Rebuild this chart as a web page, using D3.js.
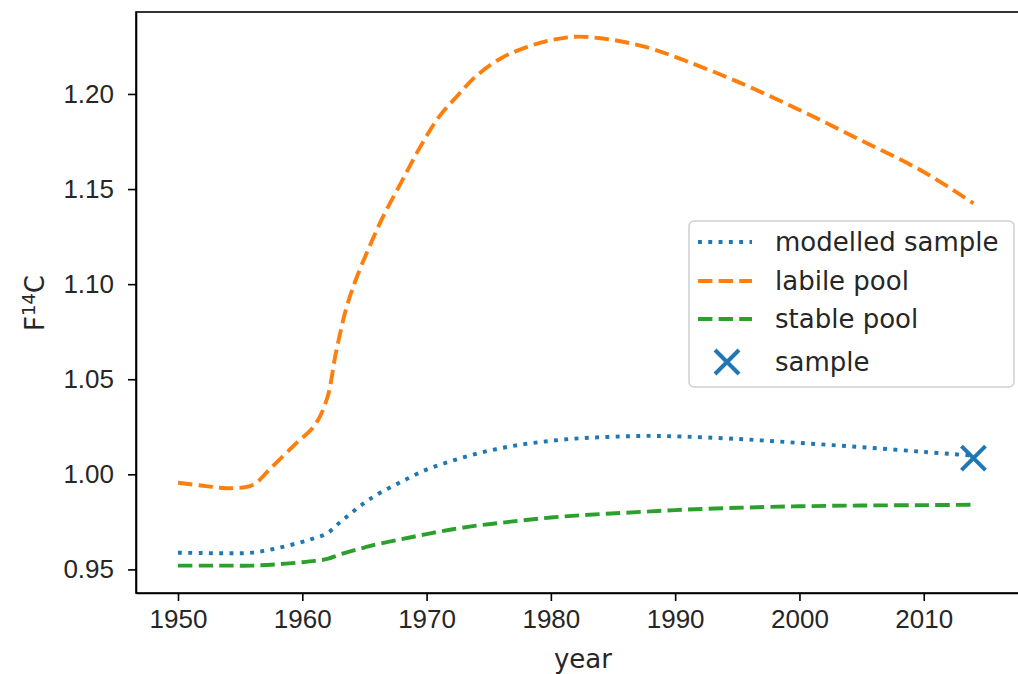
<!DOCTYPE html>
<html>
<head>
<meta charset="utf-8">
<script src="https://cdn.jsdelivr.net/npm/d3@7"></script>
<style>
  body { margin: 0; background: #fff; }
  svg { font-family: "DejaVu Sans", sans-serif; display: block; }
  .axis path, .axis line { stroke: #000; stroke-width: 1.6px; }
  .axis text { font-size: 26px; fill: #262626; }
</style>
</head>
<body>
<svg id="plot" width="1018" height="674"></svg>
<script>
// data
const years = [1950, 1952, 1954, 1956, 1958, 1960, 1961, 1962, 1963, 1964, 1965, 1966, 1968,
  1970, 1972, 1974, 1976, 1978, 1980, 1982, 1984, 1986, 1988, 1990, 1995, 2000, 2005, 2010, 2014];

const modelled_sample = [0.9588, 0.9586, 0.9585, 0.9588, 0.9612, 0.9645, 0.9665, 0.9690, 0.9746,
  0.9800, 0.9850, 0.9893, 0.9962, 1.0025, 1.0070, 1.0108, 1.0138, 1.0160, 1.0176, 1.0188,
  1.0195, 1.0200, 1.0202, 1.0200, 1.0186, 1.0165, 1.0143, 1.0118, 1.0098];

const stable_pool = [0.9520, 0.9520, 0.9520, 0.9520, 0.9527, 0.9538, 0.9545, 0.9555, 0.9578,
  0.9598, 0.9615, 0.9632, 0.9659, 0.9686, 0.9710, 0.9730, 0.9745, 0.9760, 0.9773, 0.9783,
  0.9791, 0.9798, 0.9805, 0.9812, 0.9824, 0.9832, 0.9836, 0.9838, 0.9840];

// the labile pool is read at its own, denser years around the bomb peak
const labile_years = [1950, 1952, 1954, 1956, 1957.5, 1959.5, 1961, 1962, 1962.7, 1963.5, 1964.3,
  1965.4, 1966.5, 1968, 1969.5, 1971, 1972.5, 1974, 1976, 1978, 1980, 1982, 1984, 1986, 1988,
  1990, 1995, 2000, 2005, 2010, 2014];

const labile_pool = [0.9956, 0.9940, 0.9927, 0.9944, 1.0035, 1.0163, 1.0258, 1.0400, 1.0637,
  1.0864, 1.1022, 1.1197, 1.1355, 1.1540, 1.1723, 1.1880, 1.1992, 1.2095, 1.2188, 1.2245,
  1.2283, 1.2301, 1.2293, 1.2272, 1.2240, 1.2195, 1.2065, 1.1916, 1.1755, 1.1590, 1.1425];

const sample = [{year: 2014, value: 1.0085}];

const x_ticks = [1950, 1960, 1970, 1980, 1990, 2000, 2010];
const y_ticks = [0.95, 1.00, 1.05, 1.10, 1.15, 1.20];

const series = [
  {name: "modelled sample", x: years, values: modelled_sample, color: "#1f77b4", dash: "3.9,6.4"},
  {name: "labile pool", x: labile_years, values: labile_pool, color: "#ff7f0e", dash: "14.4,6.2"},
  {name: "stable pool", x: years, values: stable_pool, color: "#2ca02c", dash: "14.4,6.2"}
];

const svg = d3.select("#plot");
const m_left = 136, m_top = 12, m_right = 1030, m_bottom = 593;

const x = d3.scaleLinear().domain([1946.62, 2018.55]).range([m_left, m_right]);
const y = d3.scaleLinear().domain([0.9376, 1.2431]).range([m_bottom, m_top]);

// axes
svg.append("g")
  .attr("class", "axis")
  .attr("transform", "translate(0," + m_bottom + ")")
  .call(d3.axisBottom(x).tickValues(x_ticks).tickFormat(d3.format("d")).tickSize(8).tickPadding(9).tickSizeOuter(0));

svg.append("g")
  .attr("class", "axis")
  .attr("transform", "translate(" + m_left + ",0)")
  .call(d3.axisLeft(y).tickValues(y_ticks).tickFormat(d3.format(".2f")).tickSize(8).tickPadding(14).tickSizeOuter(0));

// spines
svg.append("rect")
  .attr("x", m_left).attr("y", m_top)
  .attr("width", m_right - m_left).attr("height", m_bottom - m_top)
  .attr("fill", "none").attr("stroke", "#000").attr("stroke-width", 1.6);

// lines
const line = d3.line()
  .x(d => x(d[0]))
  .y(d => y(d[1]))
  .curve(d3.curveCatmullRom.alpha(0.5));

series.forEach(s => {
  svg.append("path")
    .datum(s.x.map((yr, i) => [yr, s.values[i]]))
    .attr("d", line)
    .attr("fill", "none")
    .attr("stroke", s.color)
    .attr("stroke-width", 3.9)
    .attr("stroke-dasharray", s.dash);
});

// sample marker
const xmark = (g, size) => {
  g.append("path")
    .attr("d", `M${-size},${-size}L${size},${size}M${-size},${size}L${size},${-size}`)
    .attr("stroke", "#1f77b4").attr("stroke-width", 4).attr("fill", "none");
};

svg.selectAll(".sample")
  .data(sample)
  .enter()
  .append("g")
    .attr("class", "sample")
    .attr("transform", d => "translate(" + x(d.year) + "," + y(d.value) + ")")
    .each(function() { xmark(d3.select(this), 12); });

// axis labels
svg.append("text")
  .attr("x", 583).attr("y", 668)
  .attr("text-anchor", "middle")
  .attr("font-size", 26).attr("fill", "#262626")
  .text("year");

const ylab = svg.append("text")
  .attr("transform", "translate(44,303) rotate(-90)")
  .attr("text-anchor", "middle")
  .attr("font-size", 26).attr("fill", "#262626");
ylab.append("tspan").text("F");
ylab.append("tspan").attr("font-size", 18).attr("dy", -9).text("14");
ylab.append("tspan").attr("dy", 9).text("C");

// legend
const legend = svg.append("g").attr("transform", "translate(689,221)");
legend.append("rect")
  .attr("width", 325).attr("height", 166)
  .attr("rx", 5)
  .attr("fill", "#fff").attr("fill-opacity", 0.8)
  .attr("stroke", "#d0d0d0").attr("stroke-width", 1.5);

const rows = series.map(s => ({name: s.name, color: s.color, dash: s.dash, kind: "line"}))
  .concat([{name: "sample", kind: "marker"}]);
const row_y = [21, 60, 98, 141];

rows.forEach((r, i) => {
  const g = legend.append("g").attr("transform", "translate(0," + row_y[i] + ")");
  if (r.kind === "line") {
    g.append("line")
      .attr("x1", 9).attr("x2", 63)
      .attr("stroke", r.color).attr("stroke-width", 3.9)
      .attr("stroke-dasharray", r.dash);
  } else {
    xmark(g.append("g").attr("transform", "translate(38,0)"), 12);
  }
  g.append("text")
    .attr("x", 86).attr("y", 0).attr("dy", "0.35em")
    .attr("font-size", 26).attr("fill", "#262626")
    .text(r.name);
});
</script>
</body>
</html>
